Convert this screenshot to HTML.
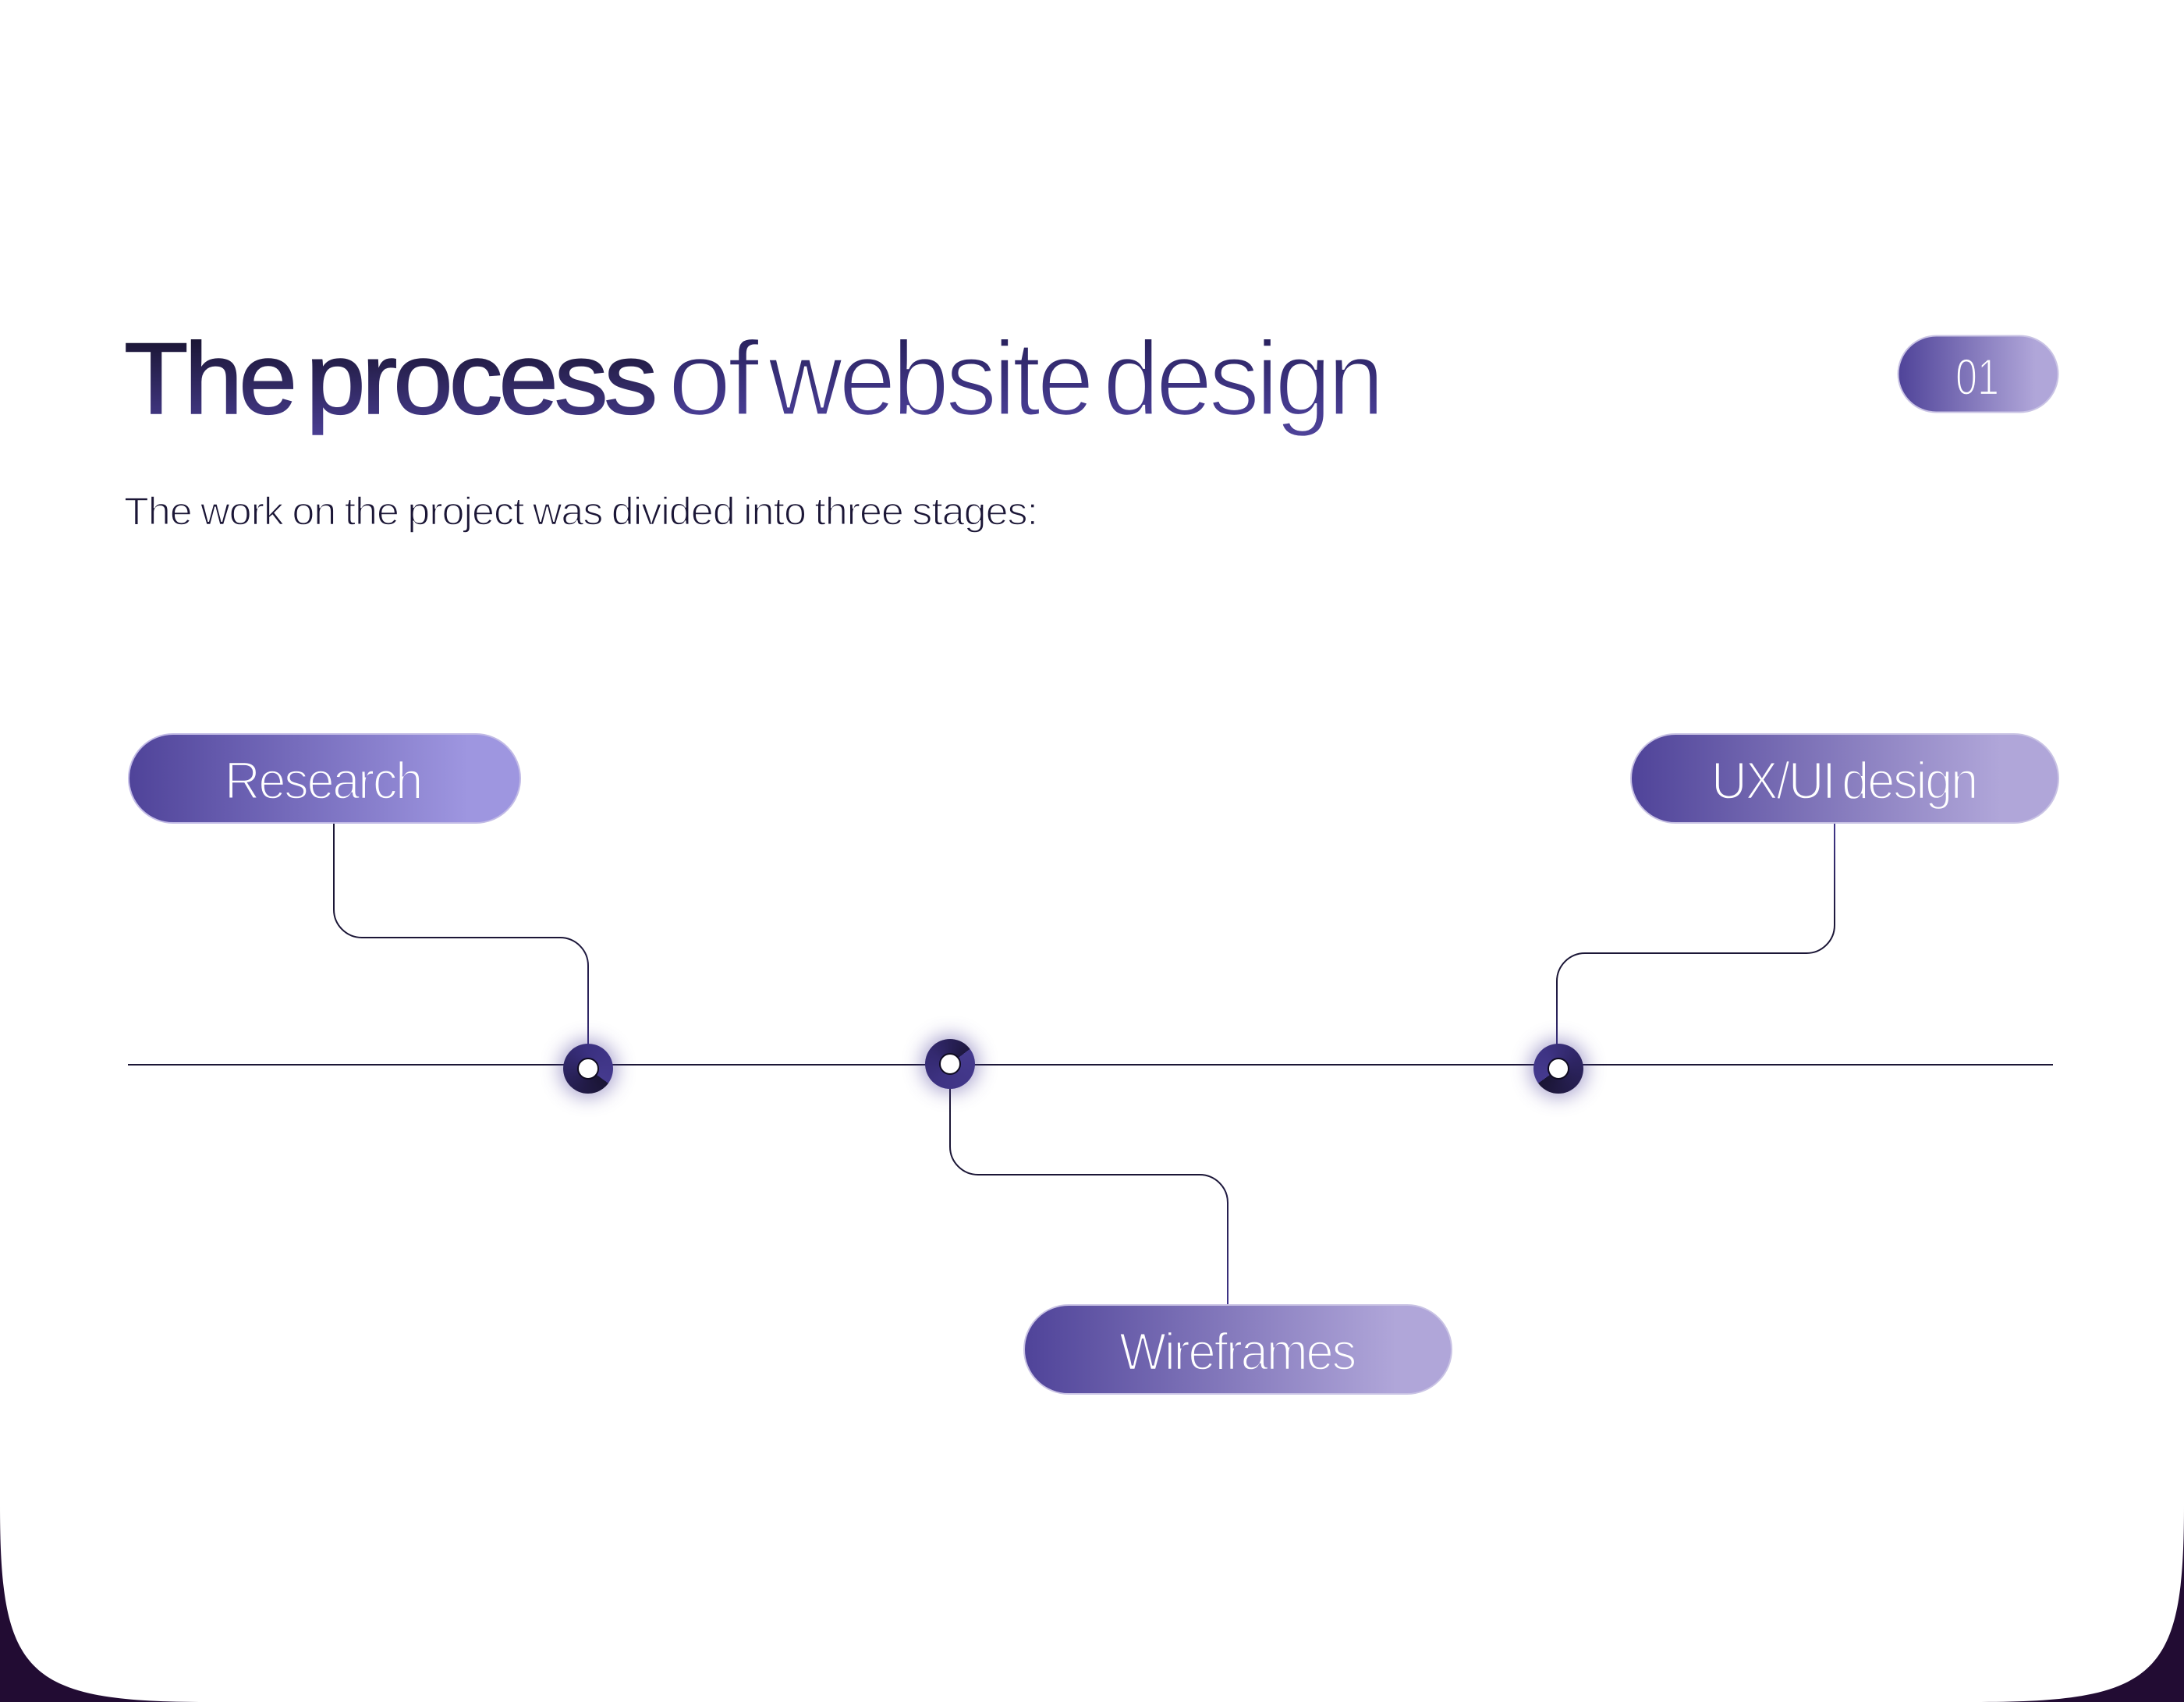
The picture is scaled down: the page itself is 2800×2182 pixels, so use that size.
<!DOCTYPE html>
<html lang="en">
<head>
<meta charset="utf-8">
<title>The process of website design</title>
<style>
html,body{margin:0;padding:0;width:2800px;height:2182px;overflow:hidden;background:#fff}
svg{position:absolute;left:0;top:0;display:block}
text{font-family:"Liberation Sans",sans-serif}
.node{position:absolute;width:64px;height:64px;border-radius:50%;box-shadow:0 0 24px 5px rgba(70,58,150,.45)}
.node i{position:absolute;left:18px;top:18px;width:24px;height:24px;border-radius:50%;background:#fff;border:2px solid #0f0b20;display:block}
</style>
</head>
<body>
<svg width="2800" height="2182" viewBox="0 0 2800 2182" xmlns="http://www.w3.org/2000/svg">
<defs>
<linearGradient id="tg" gradientUnits="userSpaceOnUse" x1="0" y1="437" x2="0" y2="562">
<stop offset="0" stop-color="#1b1636"/><stop offset="1" stop-color="#4b3f96"/></linearGradient>
<linearGradient id="tl" gradientUnits="userSpaceOnUse" x1="0" y1="437" x2="0" y2="562">
<stop offset="0" stop-color="#2a2360"/><stop offset="0.7" stop-color="#463b90"/><stop offset="1" stop-color="#4f4399"/></linearGradient>
<linearGradient id="g1" gradientUnits="userSpaceOnUse" x1="164" y1="0" x2="600" y2="0">
<stop offset="0" stop-color="#4f4399"/><stop offset="1" stop-color="#9e96e0"/></linearGradient>
<linearGradient id="g2" gradientUnits="userSpaceOnUse" x1="1312" y1="0" x2="1790" y2="0">
<stop offset="0" stop-color="#4f4399"/><stop offset="1" stop-color="#b0a6d9"/></linearGradient>
<linearGradient id="g3" gradientUnits="userSpaceOnUse" x1="2090" y1="0" x2="2565" y2="0">
<stop offset="0" stop-color="#4f4399"/><stop offset="1" stop-color="#b0a6d9"/></linearGradient>
<linearGradient id="g4" gradientUnits="userSpaceOnUse" x1="2433" y1="0" x2="2610" y2="0">
<stop offset="0" stop-color="#4f4399"/><stop offset="1" stop-color="#b0a6d9"/></linearGradient>
<linearGradient id="c1" gradientUnits="userSpaceOnUse" x1="0" y1="1200" x2="0" y2="1340">
<stop offset="0" stop-color="#1b1636"/><stop offset="1" stop-color="#372d78"/></linearGradient>
<linearGradient id="c2" gradientUnits="userSpaceOnUse" x1="0" y1="1506" x2="0" y2="1672">
<stop offset="0" stop-color="#1b1636"/><stop offset="1" stop-color="#41368c"/></linearGradient>
<linearGradient id="c3" gradientUnits="userSpaceOnUse" x1="0" y1="1056" x2="0" y2="1340">
<stop offset="0" stop-color="#41368c"/><stop offset="0.45" stop-color="#1b1636"/><stop offset="0.7" stop-color="#1b1636"/><stop offset="1" stop-color="#372d78"/></linearGradient>
</defs>

<rect width="2800" height="2182" fill="#fff"/>
<path d="M0 1930C0 2145 32 2182 262 2182L0 2182Z" fill="#220c33"/>
<path d="M2800 1930C2800 2145 2768 2182 2538 2182L2800 2182Z" fill="#220c33"/>

<line x1="164" y1="1365" x2="2632" y2="1365" stroke="#1b1636" stroke-width="2"/>
<path d="M428 1056V1166A36 36 0 0 0 464 1202H718A36 36 0 0 1 754 1238V1345" fill="none" stroke="url(#c1)" stroke-width="2"/>
<path d="M1218 1385V1470A36 36 0 0 0 1254 1506H1538A36 36 0 0 1 1574 1542V1673" fill="none" stroke="url(#c2)" stroke-width="2"/>
<path d="M2352 1056V1186A36 36 0 0 1 2316 1222H2032A36 36 0 0 0 1996 1258V1345" fill="none" stroke="url(#c3)" stroke-width="2"/>

<text x="159" y="530" font-size="130" letter-spacing="-5" textLength="217" lengthAdjust="spacingAndGlyphs" fill="url(#tg)" stroke="url(#tg)" stroke-width="1.6">The</text>
<text x="392" y="530" font-size="130" letter-spacing="-5" textLength="446" lengthAdjust="spacingAndGlyphs" fill="url(#tg)" stroke="url(#tg)" stroke-width="1.6">process</text>
<text x="856" y="532" font-size="136" letter-spacing="-5" textLength="112" lengthAdjust="spacingAndGlyphs" fill="url(#tl)" stroke="#fff" stroke-width="3.2">of</text>
<text x="985" y="532" font-size="136" letter-spacing="-5" textLength="413" lengthAdjust="spacingAndGlyphs" fill="url(#tl)" stroke="#fff" stroke-width="3.2">website</text>
<text x="1414" y="532" font-size="136" letter-spacing="-5" textLength="356" lengthAdjust="spacingAndGlyphs" fill="url(#tl)" stroke="#fff" stroke-width="3.2">design</text>
<text x="159" y="672.5" font-size="50" letter-spacing="-1" word-spacing="-2" textLength="1171" lengthAdjust="spacingAndGlyphs" fill="#1b1636" stroke="#fff" stroke-width="1.5">The work on the project was divided into three stages:</text>

<rect x="2433.5" y="430.5" width="205" height="98" rx="49" fill="url(#g4)" stroke="#c9c3e4" stroke-width="2"/>
<text x="2507" y="506" font-size="66" textLength="56" lengthAdjust="spacingAndGlyphs" fill="#fff" stroke="url(#g4)" stroke-width="2.2">01</text>

<rect x="165" y="941" width="502" height="114" rx="57" fill="url(#g1)" stroke="#c2bbe6" stroke-width="2"/>
<text x="288" y="1024" font-size="68" letter-spacing="-2.5" textLength="252" lengthAdjust="spacingAndGlyphs" fill="#fff" stroke="url(#g1)" stroke-width="2.4">Research</text>

<rect x="1313" y="1673" width="548" height="114" rx="57" fill="url(#g2)" stroke="#c9c3e4" stroke-width="2"/>
<text x="1435" y="1756" font-size="68" letter-spacing="-2.5" textLength="302" lengthAdjust="spacingAndGlyphs" fill="#fff" stroke="url(#g2)" stroke-width="2.4">Wireframes</text>

<rect x="2091" y="941" width="548" height="114" rx="57" fill="url(#g3)" stroke="#c9c3e4" stroke-width="2"/>
<text x="2194" y="1024" font-size="68" letter-spacing="-2.5" word-spacing="-6" textLength="340" lengthAdjust="spacingAndGlyphs" fill="#fff" stroke="url(#g3)" stroke-width="2.4">UX/UI design</text>
</svg>

<div class="node" style="left:722px;top:1338px;background:conic-gradient(from 126deg,#1a1534 0deg,#221b48 70deg,#3a3080 230deg,#453a8e 360deg)"><i></i></div>
<div class="node" style="left:1186px;top:1332px;background:conic-gradient(from 53deg,#453a8e 0deg,#3e3384 150deg,#33296f 250deg,#1e1840 360deg)"><i></i></div>
<div class="node" style="left:1966px;top:1338px;background:conic-gradient(from 234deg,#453a8e 0deg,#3e3384 90deg,#2e2564 190deg,#1a1534 360deg)"><i></i></div>
</body>
</html>
